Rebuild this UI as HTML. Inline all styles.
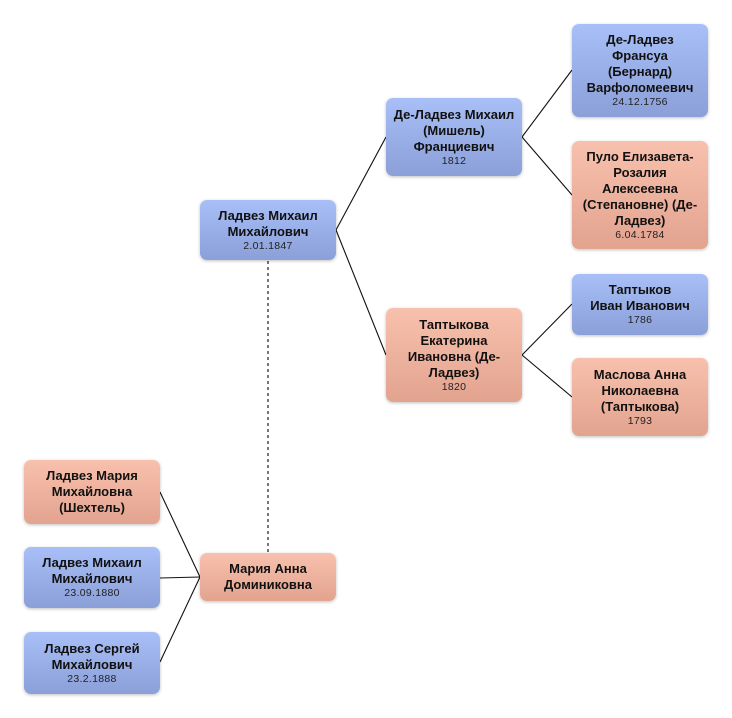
<!DOCTYPE html>
<html><head><meta charset="utf-8"><style>
html,body{margin:0;padding:0;background:#fff;width:732px;height:718px;overflow:hidden;position:relative;font-family:"Liberation Sans","DejaVu Sans",sans-serif}
.n{position:absolute;width:136px;border-radius:7px;display:flex;flex-direction:column;justify-content:center;align-items:center;text-align:center;color:#111;box-shadow:0 1px 3px rgba(0,0,0,.25);box-sizing:border-box;padding:0 4px}
.b{background:linear-gradient(#a8bff7,#8b9fd8)}
.p{background:linear-gradient(#f8c1ad,#e2a38f)}
.t{font-weight:bold;font-size:13px;line-height:16px}
.d{font-size:10.5px;line-height:13px;color:#222;letter-spacing:.3px}
svg{position:absolute;left:0;top:0}
</style></head><body>
<svg width="732" height="718">
<g stroke="#111" stroke-width="1.1" fill="none">
<line x1="336" y1="230" x2="386" y2="137"/>
<line x1="336" y1="230" x2="386" y2="355"/>
<line x1="522" y1="137" x2="572" y2="70"/>
<line x1="522" y1="137" x2="572" y2="195"/>
<line x1="522" y1="355" x2="572" y2="304"/>
<line x1="522" y1="355" x2="572" y2="397"/>
<line x1="200" y1="577" x2="160" y2="492"/>
<line x1="200" y1="577" x2="160" y2="578"/>
<line x1="200" y1="577" x2="160" y2="662"/>
</g>
<line x1="268" y1="261" x2="268" y2="553" stroke="#777" stroke-width="2" stroke-dasharray="3,3"/>
</svg>
<div class="n b" style="left:200px;top:200px;height:60px"><div class="t">Ладвез Михаил<br>Михайлович</div><div class="d">2.01.1847</div></div>
<div class="n b" style="left:386px;top:98px;height:78px"><div class="t">Де-Ладвез Михаил<br>(Мишель)<br>Франциевич</div><div class="d">1812</div></div>
<div class="n p" style="left:386px;top:308px;height:94px"><div class="t">Таптыкова<br>Екатерина<br>Ивановна (Де-<br>Ладвез)</div><div class="d">1820</div></div>
<div class="n b" style="left:572px;top:24px;height:93px"><div class="t">Де-Ладвез<br>Франсуа<br>(Бернард)<br>Варфоломеевич</div><div class="d">24.12.1756</div></div>
<div class="n p" style="left:572px;top:141px;height:108px"><div class="t">Пуло Елизавета-<br>Розалия<br>Алексеевна<br>(Степановне) (Де-<br>Ладвез)</div><div class="d">6.04.1784</div></div>
<div class="n b" style="left:572px;top:274px;height:61px"><div class="t">Таптыков<br>Иван Иванович</div><div class="d">1786</div></div>
<div class="n p" style="left:572px;top:358px;height:78px"><div class="t">Маслова Анна<br>Николаевна<br>(Таптыкова)</div><div class="d">1793</div></div>
<div class="n p" style="left:200px;top:553px;height:48px"><div class="t">Мария Анна<br>Доминиковна</div></div>
<div class="n p" style="left:24px;top:460px;height:64px"><div class="t">Ладвез Мария<br>Михайловна<br>(Шехтель)</div></div>
<div class="n b" style="left:24px;top:547px;height:61px"><div class="t">Ладвез Михаил<br>Михайлович</div><div class="d">23.09.1880</div></div>
<div class="n b" style="left:24px;top:632px;height:62px"><div class="t">Ладвез Сергей<br>Михайлович</div><div class="d">23.2.1888</div></div>
</body></html>
